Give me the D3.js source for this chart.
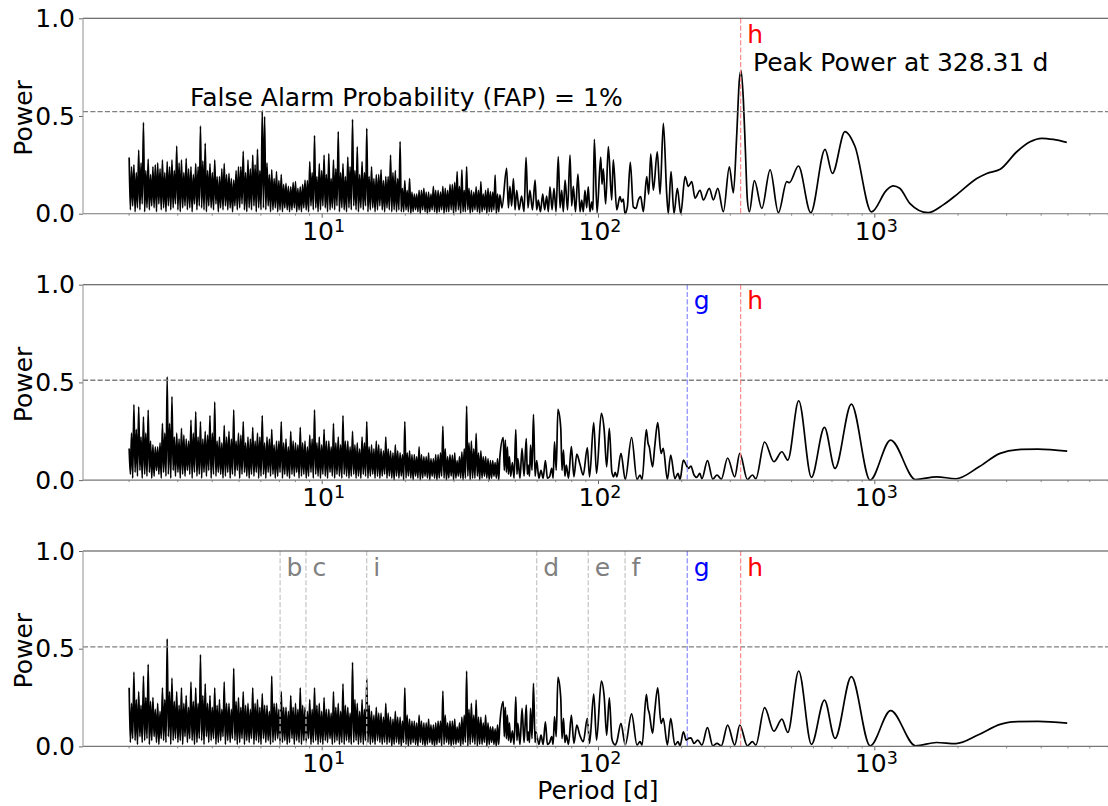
<!DOCTYPE html>
<html><head><meta charset="utf-8">
<script src="https://cdn.jsdelivr.net/npm/d3@7"></script>
<style>body{margin:0;background:#fff} text{font-family:"DejaVu Sans",sans-serif}</style>
</head><body><svg id="chart" width="1108" height="806"></svg>
<script>
// ---------------- DATA ----------------
// period grid of the dense short-period part (d): local maxima and minima alternate
const densePeriod = [2.010,2.030,2.050,2.070,2.091,2.112,2.133,2.154,2.176,2.198,2.219,2.241,2.264,2.287,2.309,2.332,2.355,2.378,2.402,2.426,2.450,2.474,2.499,2.524,2.549,2.574,2.600,2.626,2.652,2.678,2.705,2.732,2.759,2.786,2.815,2.843,2.871,2.900,2.928,2.957,2.987,3.017,3.047,3.077,3.108,3.139,3.170,3.202,3.233,3.265,3.298,3.331,3.364,3.397,3.431,3.465,3.500,3.535,3.570,3.606,3.641,3.677,3.714,3.751,3.788,3.826,3.864,3.902,3.941,3.980,4.020,4.060,4.101,4.142,4.183,4.225,4.266,4.308,4.351,4.394,4.438,4.482,4.527,4.572,4.618,4.664,4.710,4.757,4.804,4.852,4.900,4.949,4.998,5.048,5.098,5.149,5.200,5.252,5.304,5.357,5.410,5.464,5.518,5.573,5.629,5.685,5.741,5.798,5.856,5.914,5.973,6.032,6.093,6.154,6.215,6.277,6.339,6.402,6.466,6.530,6.595,6.661,6.727,6.794,6.861,6.929,6.999,7.069,7.139,7.210,7.281,7.353,7.427,7.501,7.576,7.651,7.727,7.804,7.882,7.960,8.039,8.119,8.200,8.282,8.364,8.447,8.531,8.616,8.702,8.789,8.876,8.964,9.054,9.144,9.235,9.327,9.420,9.514,9.608,9.704,9.800,9.898,9.996,10.10,10.20,10.30,10.40,10.50,10.61,10.72,10.82,10.93,11.03,11.14,11.25,11.36,11.48,11.59,11.71,11.83,11.94,12.06,12.18,12.30,12.43,12.55,12.67,12.80,12.93,13.06,13.19,13.32,13.45,13.58,13.72,13.86,14.00,14.14,14.28,14.42,14.56,14.70,14.85,15.00,15.15,15.30,15.45,15.60,15.76,15.92,16.08,16.24,16.40,16.56,16.73,16.90,17.06,17.23,17.40,17.57,17.75,17.93,18.11,18.29,18.47,18.65,18.84,19.03,19.22,19.41,19.60,19.80,19.99,20.19,20.39,20.59,20.80,21.01,21.22,21.43,21.64,21.86,22.07,22.29,22.52,22.74,22.97,23.20,23.43,23.66,23.89,24.13,24.37,24.61,24.86,25.11,25.36,25.61,25.86,26.12,26.38,26.64,26.91,27.18,27.45,27.72,28.00,28.28,28.56,28.84,29.13,29.42,29.71,30.01,30.30,30.60,30.91,31.22,31.53,31.84,32.16,32.48,32.80,33.13,33.46,33.79,34.13,34.47,34.81,35.16,35.51,35.86,36.22,36.58,36.94,37.31,37.68,38.05,38.43,38.81,39.20,39.59,39.99,40.39,40.79,41.20,41.60,42.01,42.43,42.85,43.28,43.71,44.15];

// panel 1: tall spikes, intermediate maxima, minima
const densePeaks1 = [0.288,0.25,0.326,0.467,0.28,0.24,0.26,0.275,0.266,0.275,
0.346,0.275,0.283,0.24,0.256,0.449,0.36,0.256,0.275,0.19,
0.256,0.206,0.172,0.24,0.32,0.275,0.30,0.33,0.527,0.26,
0.225,0.215,0.2,0.155,0.138,0.164,0.138,0.172,0.266,0.40,
0.256,0.30,0.307,0.275,0.42,0.256,0.29,0.483,0.343,0.266,
0.437,0.24,0.20,0.225,0.19,0.30,0.22,0.369,0.17,0.18,
0.10,0.12,0.13,0.11,0.14,0.12,0.14,0.12,0.15,0.215,
0.224,0.24,0.12,0.138,0.164,0.12,0.113,0.198,0.096];
const denseMids1 = [0.24,0.21,0.26,0.22,0.2,0.25,0.23,0.21,0.24,0.22,
0.26,0.21,0.23,0.2,0.24,0.27,0.22,0.21,0.19,0.23,
0.2,0.18,0.22,0.24,0.21,0.23,0.25,0.22,0.497,0.2,
0.18,0.17,0.15,0.14,0.16,0.13,0.15,0.17,0.21,0.19,
0.22,0.2,0.18,0.23,0.21,0.19,0.24,0.22,0.2,0.21,
0.19,0.18,0.2,0.17,0.19,0.21,0.18,0.13,0.12,0.11,
0.1,0.12,0.11,0.1,0.12,0.11,0.13,0.15,0.16,0.14,
0.12,0.13,0.11,0.12,0.1,0.13,0.11,0.1];
const denseLows1 = [0.02,0.04,0.01,0.03,0.02,0.05,0.01,0.03,0.02,0.04,
0.03,0.01,0.05,0.02,0.03,0.01,0.04,0.02,0.03,0.05,
0.02,0.01,0.03,0.04,0.02,0.03,0.01,0.05,0.02,0.04,
0.03,0.02,0.01,0.04,0.03,0.02,0.05,0.01,0.03,0.02,
0.04,0.02,0.03,0.01,0.04,0.02,0.03,0.05,0.02,0.01,
0.03,0.02,0.04,0.01,0.03,0.02,0.03,0.02,0.04,0.01,
0.02,0.03,0.01,0.02,0.01,0.03,0.02,0.01,0.02,0.03,
0.01,0.02,0.01,0.03,0.02,0.01,0.04,0.02,0.03,0.01,
0.02,0.04,0.03,0.01,0.02,0.03,0.02,0.04,0.01,0.03,
0.02,0.01,0.03,0.02,0.04,0.02,0.01,0.03,0.02,0.04,
0.01,0.02,0.03,0.01,0.02,0.04,0.02,0.01,0.03,0.02,
0.01,0.02,0.01,0.02,0.01,0.01,0.02,0.01,0.0,0.01,
0.02,0.01,0.0,0.02,0.01,0.0,0.01,0.02,0.01,0.0,
0.01,0.02,0.0,0.01,0.01,0.02,0.0,0.01,0.02,0.0,
0.01,0.01,0.02,0.0,0.01,0.02,0.01,0.0,0.01,0.02,
0.0,0.01,0.01,0.02,0.0,0.01];

// panel 2
const densePeaks2 = [0.162,0.387,0.375,0.324,0.358,0.18,0.17,0.29,0.529,0.427,
0.24,0.265,0.21,0.307,0.35,0.30,0.25,0.33,0.40,0.22,
0.28,0.25,0.36,0.24,0.30,0.22,0.27,0.24,0.33,0.22,
0.26,0.20,0.30,0.21,0.25,0.19,0.27,0.20,0.23,0.36,
0.22,0.26,0.20,0.29,0.22,0.33,0.20,0.25,0.19,0.22,
0.30,0.18,0.20,0.16,0.22,0.15,0.18,0.14,0.30,0.15,
0.13,0.17,0.12,0.14,0.11,0.13,0.276,0.12,0.128,0.10,
0.145,0.379,0.20,0.239,0.15,0.12,0.10,0.09,0.12];
const denseMids2 = [0.24,0.26,0.22,0.24,0.2,0.17,0.19,0.24,0.29,0.22,
0.21,0.23,0.2,0.24,0.22,0.21,0.23,0.24,0.2,0.19,
0.22,0.21,0.2,0.23,0.19,0.21,0.2,0.22,0.19,0.21,
0.18,0.2,0.19,0.17,0.2,0.18,0.19,0.17,0.21,0.19,
0.18,0.2,0.17,0.19,0.18,0.2,0.17,0.18,0.16,0.19,
0.17,0.16,0.18,0.15,0.16,0.14,0.15,0.13,0.14,0.13,
0.12,0.13,0.12,0.11,0.13,0.14,0.16,0.13,0.14,0.12,
0.16,0.19,0.16,0.14,0.12,0.11,0.1,0.11];
const denseLows2 = [0.03,0.01,0.04,0.02,0.05,0.01,0.03,0.02,0.04,0.01,
0.02,0.05,0.03,0.01,0.04,0.02,0.03,0.01,0.05,0.02,
0.04,0.01,0.03,0.02,0.05,0.03,0.01,0.04,0.02,0.03,
0.01,0.04,0.02,0.05,0.01,0.03,0.02,0.04,0.03,0.01,
0.02,0.04,0.01,0.03,0.02,0.05,0.01,0.03,0.04,0.02,
0.01,0.03,0.02,0.04,0.01,0.02,0.03,0.01,0.04,0.02,
0.03,0.01,0.02,0.04,0.01,0.03,0.02,0.01,0.03,0.02,
0.04,0.01,0.02,0.03,0.01,0.02,0.04,0.01,0.03,0.02,
0.01,0.03,0.02,0.01,0.04,0.02,0.01,0.03,0.02,0.01,
0.03,0.02,0.01,0.02,0.03,0.01,0.02,0.01,0.03,0.02,
0.01,0.02,0.03,0.01,0.02,0.01,0.02,0.03,0.01,0.02,
0.01,0.0,0.02,0.01,0.02,0.0,0.01,0.02,0.01,0.0,
0.02,0.01,0.0,0.01,0.02,0.01,0.0,0.02,0.01,0.0,
0.01,0.02,0.01,0.0,0.01,0.02,0.0,0.01,0.02,0.01,
0.0,0.01,0.02,0.0,0.01,0.01,0.02,0.0,0.01,0.02,
0.01,0.0,0.01,0.02,0.01,0.0];

// panel 3
const densePeaks3 = [0.30,0.38,0.28,0.36,0.42,0.25,0.22,0.30,0.55,0.35,
0.28,0.30,0.26,0.33,0.30,0.47,0.32,0.26,0.30,0.24,
0.33,0.22,0.40,0.25,0.28,0.22,0.30,0.24,0.27,0.21,
0.36,0.22,0.28,0.20,0.26,0.22,0.30,0.20,0.24,0.30,
0.22,0.25,0.19,0.28,0.22,0.32,0.20,0.43,0.22,0.24,
0.35,0.18,0.20,0.17,0.22,0.15,0.18,0.15,0.30,0.14,
0.13,0.16,0.12,0.14,0.11,0.13,0.283,0.12,0.13,0.10,
0.15,0.386,0.22,0.237,0.15,0.16,0.10,0.09,0.12];
const denseMids3 = [0.22,0.24,0.21,0.25,0.23,0.19,0.18,0.24,0.28,0.23,
0.21,0.22,0.2,0.23,0.22,0.26,0.22,0.2,0.21,0.19,
0.22,0.19,0.23,0.2,0.21,0.19,0.22,0.2,0.21,0.18,
0.22,0.19,0.2,0.18,0.2,0.19,0.21,0.18,0.19,0.21,
0.18,0.19,0.17,0.2,0.18,0.21,0.17,0.24,0.18,0.19,
0.21,0.16,0.17,0.15,0.17,0.14,0.15,0.13,0.16,0.13,
0.12,0.13,0.12,0.11,0.12,0.13,0.16,0.13,0.14,0.12,
0.16,0.19,0.16,0.15,0.12,0.12,0.1,0.11];
const denseLows3 = [0.02,0.04,0.03,0.01,0.05,0.02,0.03,0.04,0.01,0.03,
0.05,0.02,0.01,0.04,0.03,0.02,0.05,0.01,0.03,0.04,
0.02,0.03,0.01,0.05,0.02,0.04,0.03,0.01,0.02,0.04,
0.03,0.01,0.05,0.02,0.03,0.04,0.01,0.02,0.03,0.05,
0.01,0.03,0.02,0.04,0.03,0.01,0.02,0.04,0.01,0.03,
0.02,0.04,0.01,0.03,0.02,0.01,0.04,0.02,0.03,0.01,
0.02,0.03,0.04,0.01,0.02,0.03,0.01,0.02,0.04,0.01,
0.03,0.02,0.01,0.03,0.02,0.04,0.01,0.02,0.03,0.01,
0.02,0.01,0.03,0.02,0.04,0.01,0.02,0.03,0.01,0.02,
0.01,0.03,0.02,0.01,0.02,0.03,0.01,0.02,0.01,0.03,
0.02,0.01,0.02,0.01,0.03,0.02,0.01,0.02,0.01,0.02,
0.0,0.01,0.02,0.01,0.0,0.02,0.01,0.0,0.01,0.02,
0.01,0.0,0.02,0.01,0.0,0.01,0.02,0.01,0.0,0.01,
0.02,0.0,0.01,0.02,0.01,0.0,0.01,0.01,0.02,0.0,
0.01,0.02,0.0,0.01,0.02,0.01,0.0,0.01,0.01,0.02,
0.0,0.01,0.02,0.01,0.0,0.01];

// resolved part of each periodogram: [period (d), power]
const sparse1 = [[44.9,0.03],[46.7,0.232],[47.4,0.03],[48.0,0.14],[48.7,0.04],[49.4,0.18],[50.1,0.02],[50.8,0.12],[51.8,0.02],[52.9,0.09],[54.0,0.01],[54.9,0.288],[55.8,0.03],[56.7,0.12],[57.9,0.02],[59.2,0.172],[60.0,0.02],[60.8,0.07],[61.9,0.01],[63.1,0.10],[64.1,0.02],[65.2,0.09],[66.1,0.01],[67.0,0.138],[68.2,0.02],[69.3,0.13],[70.5,0.01],[71.8,0.292],[72.9,0.03],[73.9,0.12],[74.9,0.01],[76.0,0.172],[77.6,0.02],[79.2,0.30],[80.3,0.04],[81.4,0.14],[82.9,0.01],[84.6,0.203],[86.1,0.01],[87.3,0.07],[88.5,0.01],[89.7,0.12],[91.0,0.03],[92.2,0.138],[93.5,0.01],[94.9,0.06],[95.9,0.02],[97.0,0.38],[99.2,0.005],[102.3,0.29],[103.4,0.15],[104.5,0.23],[106.6,0.05],[109.0,0.343],[112.1,0.07],[113.6,0.275],[116.9,0.02],[120.1,0.087],[121.8,0.06],[123.5,0.075],[125.2,0.0],[127.7,0.035],[130.9,0.263],[134.2,0.035],[137.3,0.027],[139.9,0.07],[142.7,0.087],[145.9,0.01],[150.1,0.19],[152.6,0.10],[155.2,0.305],[158.6,0.12],[163.9,0.317],[167.7,0.10],[172.4,0.462],[177.3,0.10],[179.7,0.0],[183.8,0.215],[188.4,0.0],[193.7,0.13],[199.3,0.0],[206.6,0.19],[212.3,0.14],[218.4,0.164],[224.5,0.08],[234.1,0.12],[240.6,0.07],[253.0,0.13],[261.5,0.07],[271.3,0.13],[284.3,0.01],[298.8,0.24],[309.0,0.107],[317.9,0.41],[324.8,0.684],[329.5,0.732],[335.9,0.58],[341.5,0.326],[347.2,0.07],[353.1,0.01],[368.2,0.169],[391.7,0.027],[419.7,0.224],[449.7,0.005],[482.3,0.164],[492.9,0.159],[531.3,0.244],[588.8,0.005],[663.4,0.329],[704.9,0.206],[783.3,0.42],[850.9,0.345],[976.9,0.009],[1107,0.12],[1170,0.142],[1236,0.13],[1344,0.053],[1565,0.005],[1775,0.045],[2013,0.104],[2349,0.18],[2554,0.206],[2854,0.227],[3279,0.317],[3662,0.368],[4038,0.386],[4448,0.38],[4973,0.365]];

const sparse2 = [[45.4,0.218],[45.8,0.05],[46.2,0.205],[46.6,0.04],[47.0,0.17],[47.4,0.03],[47.8,0.12],[48.3,0.02],[49.0,0.09],[49.7,0.01],[50.4,0.259],[50.9,0.03],[51.3,0.11],[52.2,0.01],[53.1,0.162],[54.0,0.02],[55.0,0.213],[55.5,0.03],[55.9,0.077],[56.5,0.02],[57.0,0.179],[57.7,0.05],[58.4,0.336],[59.2,0.02],[60.0,0.10],[61.1,0.01],[62.2,0.05],[63.3,0.01],[64.5,0.10],[65.6,0.01],[66.8,0.017],[68.0,0.06],[68.8,0.01],[69.6,0.196],[70.6,0.05],[71.6,0.362],[73.3,0.27],[74.1,0.05],[75.0,0.154],[75.9,0.02],[76.8,0.077],[78.2,0.01],[80.1,0.171],[81.8,0.017],[83.8,0.133],[85.9,0.085],[88.4,0.026],[91.5,0.166],[93.2,0.017],[96.5,0.294],[98.8,0.034],[102.8,0.341],[105.3,0.256],[107.5,0.068],[109.9,0.265],[112.2,0.043],[113.8,0.017],[115.4,0.04],[117.0,0.017],[121.1,0.137],[125.5,0.003],[132.3,0.218],[138.4,0.003],[141.9,0.026],[144.4,0.003],[149.6,0.259],[151.7,0.19],[153.3,0.17],[157.6,0.068],[160.4,0.17],[164.5,0.294],[169.1,0.137],[172.2,0.162],[178.3,0.003],[183.3,0.128],[189.8,0.008],[194.8,0.034],[198.1,0.003],[203.7,0.102],[208.7,0.077],[212.4,0.06],[216.9,0.072],[222.6,0.026],[227.8,0.014],[233.6,0.034],[237.7,0.007],[249.0,0.10],[260.3,0.005],[269.6,0.026],[279.4,0.005],[294.6,0.113],[312.4,0.017],[326.0,0.137],[347.3,0.003],[362.1,0.026],[372.5,0.007],[400.8,0.195],[433.1,0.094],[463.0,0.145],[486.3,0.102],[532.6,0.406],[592.2,0.014],[660.1,0.27],[720.9,0.06],[825.9,0.389],[965.6,0.0],[1146,0.205],[1410,0.003],[1680,0.017],[1972,0.007],[2394,0.068],[2854,0.137],[3398,0.157],[3913,0.159],[4990,0.148]];

const sparse3 = [[45.4,0.229],[45.8,0.05],[46.2,0.2],[46.6,0.04],[47.0,0.16],[47.4,0.03],[47.8,0.12],[48.3,0.02],[49.0,0.08],[49.7,0.01],[50.4,0.254],[50.9,0.03],[51.3,0.118],[52.2,0.01],[53.1,0.195],[54.0,0.02],[55.0,0.212],[55.5,0.03],[55.9,0.075],[56.5,0.02],[57.0,0.195],[57.7,0.04],[58.4,0.323],[59.2,0.02],[59.6,0.075],[61.1,0.01],[62.2,0.058],[63.3,0.01],[64.5,0.126],[65.6,0.01],[66.8,0.02],[68.0,0.05],[68.8,0.01],[69.6,0.152],[70.6,0.05],[71.6,0.353],[73.3,0.251],[74.1,0.04],[75.0,0.143],[75.9,0.02],[76.8,0.058],[78.2,0.01],[80.1,0.16],[81.8,0.015],[83.8,0.109],[85.9,0.058],[88.4,0.024],[91.5,0.143],[93.2,0.015],[96.5,0.268],[98.8,0.032],[102.8,0.334],[105.3,0.254],[107.5,0.058],[109.9,0.249],[112.2,0.041],[113.8,0.015],[115.4,0.007],[117.0,0.024],[121.1,0.118],[125.5,0.007],[132.3,0.166],[138.4,0.007],[141.9,0.024],[144.4,0.007],[149.6,0.266],[151.7,0.195],[153.3,0.17],[157.6,0.067],[160.4,0.177],[164.5,0.30],[169.1,0.118],[172.2,0.143],[178.3,0.007],[183.3,0.143],[189.8,0.007],[194.8,0.024],[198.1,0.003],[203.7,0.075],[208.7,0.032],[212.4,0.041],[216.9,0.044],[222.6,0.015],[229.6,0.032],[237.7,0.007],[249.0,0.096],[260.3,0.003],[269.6,0.015],[279.4,0.003],[294.6,0.109],[312.4,0.007],[326.0,0.109],[347.3,0.003],[362.1,0.024],[372.5,0.007],[400.8,0.198],[433.1,0.078],[463.0,0.14],[486.3,0.072],[532.6,0.386],[592.2,0.01],[660.1,0.237],[720.9,0.041],[825.9,0.357],[965.6,0.003],[1146,0.183],[1410,0.003],[1680,0.02],[1972,0.014],[2394,0.061],[2854,0.113],[3166,0.126],[3913,0.128],[4990,0.119]];

const fapLevels = [0.522, 0.511, 0.509];
const planetNames = ["b","c","i","d","e","f","g","h"];
const planetPeriods = [7.07, 8.77, 14.55, 60.0, 92.2, 125.3, 210.4, 328.31];
const panelPlanets = [["h"], ["g","h"], ["b","c","i","d","e","f","g","h"]];
const xTickValues = [10, 100, 1000];
const xTickExponents = ["1", "2", "3"];
const xMinorTicks = [2,3,4,5,6,7,8,9,20,30,40,50,60,70,80,90,200,300,400,500,600,700,800,900,2000,3000,4000,5000,6000,7000];
const yTickValues = [0, 0.5, 1.0];
const yTickLabels = ["0.0", "0.5", "1.0"];
const peakPeriod = 328.31, peakPower = 0.732;
const fapText = "False Alarm Probability (FAP) = 1%";
const peakText = "Peak Power at 328.31 d";

// ---------------- DRAW ----------------
const W = 1108, H = 806;
const svg = d3.select("#chart");
svg.append("rect").attr("width", W).attr("height", H).attr("fill", "#fff");

const left = 83, right = 1113.3, panelH = 195.4;
const panelTops = [18.3, 284.7, 551.0];
const x = d3.scaleLog().domain([Math.pow(10, 0.1361), Math.pow(10, 3.865)]).range([left, right]);

function build(peaks, mids, lows, sparse) {
  const tops = [];
  for (let t = 0; t < peaks.length + mids.length; t++) tops.push(t % 2 === 0 ? peaks[t / 2] : mids[(t - 1) / 2]);
  const pts = densePeriod.map((p, n) => [p, n % 2 === 0 ? tops[n / 2] : lows[(n - 1) / 2]]);
  return pts.concat(sparse);
}
const series = [
  build(densePeaks1, denseMids1, denseLows1, sparse1),
  build(densePeaks2, denseMids2, denseLows2, sparse2),
  build(densePeaks3, denseMids3, denseLows3, sparse3)
];

const lineColor = n => n === "h" ? "#ff8a8a" : n === "g" ? "#8a8aff" : "#c4c4c4";
const labelColor = n => n === "h" ? "#ff0000" : n === "g" ? "#0000ff" : "#808080";

svg.append("defs").append("clipPath").attr("id", "clip").append("rect")
  .attr("x", left).attr("y", 0).attr("width", right - left).attr("height", H);

panelTops.forEach((top, i) => {
  const bottom = top + panelH;
  const y = d3.scaleLinear().domain([0, 1]).range([bottom, top]);
  const g = svg.append("g");

  const line = d3.line().x(d => x(d[0])).y(d => y(d[1])).curve(d3.curveMonotoneX);
  g.append("path").datum(series[i]).attr("d", line).attr("fill", "none")
    .attr("stroke", "#000").attr("stroke-width", 1.7).attr("stroke-linejoin", "round")
    .attr("clip-path", "url(#clip)");

  g.append("line").attr("x1", left).attr("x2", right).attr("y1", y(fapLevels[i])).attr("y2", y(fapLevels[i]))
    .attr("stroke", "#808080").attr("stroke-width", 1.3).attr("stroke-dasharray", "5.1,2.2");

  panelPlanets[i].forEach(n => {
    const px = x(planetPeriods[planetNames.indexOf(n)]);
    g.append("line").attr("x1", px).attr("x2", px).attr("y1", top).attr("y2", bottom)
      .attr("stroke", lineColor(n)).attr("stroke-width", 1.2).attr("stroke-dasharray", "5.1,2.2");
    g.append("text").attr("x", px + 6.5).attr("y", top + 24.5).attr("font-size", 25)
      .attr("fill", labelColor(n)).text(n);
  });

  const ya = g.append("g").attr("transform", `translate(${left},0)`)
    .call(d3.axisLeft(y).tickValues(yTickValues).tickFormat((d, k) => yTickLabels[k]).tickSize(4).tickPadding(4).tickSizeOuter(0));
  ya.select(".domain").remove();
  ya.selectAll("line").attr("stroke", "#666");
  ya.selectAll("text").attr("font-size", 25).attr("font-family", "DejaVu Sans").attr("fill", "#000");

  const xa = g.append("g").attr("transform", `translate(0,${bottom})`)
    .call(d3.axisBottom(x).tickValues(xTickValues).tickFormat("").tickSize(4).tickSizeOuter(0));
  xa.select(".domain").remove();
  xa.selectAll("line").attr("stroke", "#666");
  const xm = g.append("g").attr("transform", `translate(0,${bottom})`)
    .call(d3.axisBottom(x).tickValues(xMinorTicks).tickFormat("").tickSize(2).tickSizeOuter(0));
  xm.select(".domain").remove();
  xm.selectAll("line").attr("stroke", "#888");
  xTickValues.forEach((v, k) => {
    const t = g.append("text").attr("x", x(v) + 2).attr("y", bottom + 25.8)
      .attr("text-anchor", "middle").attr("font-size", 25).attr("fill", "#000");
    t.append("tspan").text("10");
    t.append("tspan").attr("font-size", 17.5).attr("dy", -7.8).text(xTickExponents[k]);
  });

  g.append("line").attr("x1", left).attr("x2", right).attr("y1", top).attr("y2", top).attr("stroke", "#444").attr("stroke-width", 1.1);
  g.append("line").attr("x1", left).attr("x2", right).attr("y1", bottom).attr("y2", bottom).attr("stroke", "#777").attr("stroke-width", 1.1);
  g.append("line").attr("x1", left).attr("x2", left).attr("y1", top).attr("y2", bottom).attr("stroke", "#999").attr("stroke-width", 1.1);

  g.append("text").attr("transform", `translate(31.5,${(top + bottom) / 2 + 2}) rotate(-90)`)
    .attr("text-anchor", "middle").attr("font-size", 25).attr("fill", "#000").text("Power");

  if (i === 0) {
    g.append("text").attr("x", x(3.34)).attr("y", y(fapLevels[0]) - 5.7).attr("font-size", 25).attr("fill", "#000").text(fapText);
    g.append("text").attr("x", x(peakPeriod) + 12.4).attr("y", y(peakPower) + 0.6).attr("font-size", 25).attr("fill", "#000").text(peakText);
  }
});

svg.append("text").attr("x", x(100)).attr("y", 799).attr("text-anchor", "middle")
  .attr("font-size", 25).attr("fill", "#000").text("Period [d]");
</script></body></html>
